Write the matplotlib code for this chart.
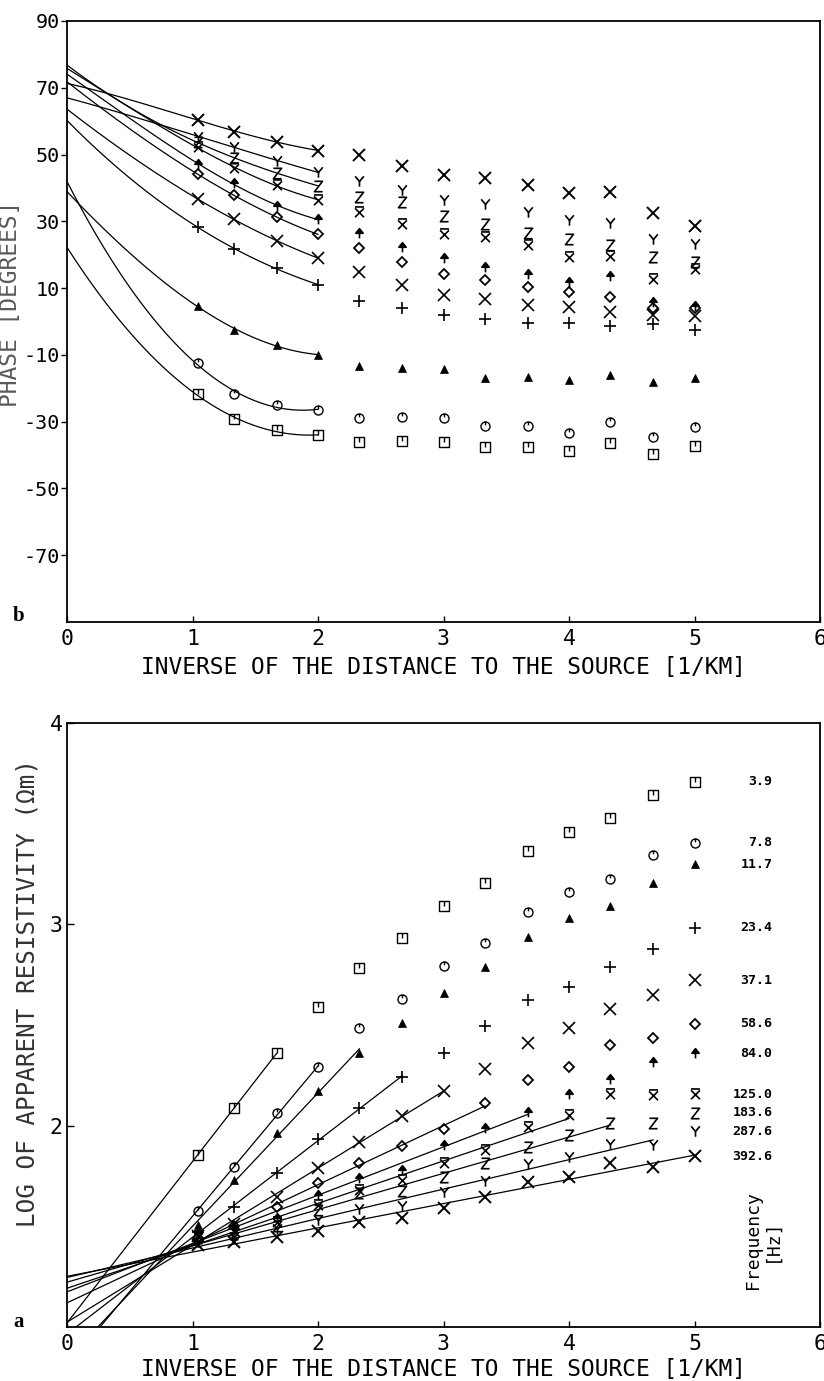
import numpy as np
import matplotlib
matplotlib.use("Agg")
import matplotlib.pyplot as plt
from matplotlib.path import Path

# ---------------------------------------------------------------- data
inv_distance = [1.04, 1.33, 1.67, 2.0, 2.33, 2.67, 3.0, 3.33, 3.67, 4.0, 4.33, 4.67, 5.0]

freq_labels = ["3.9", "7.8", "11.7", "23.4", "37.1", "58.6",
               "84.0", "125.0", "183.6", "287.6", "392.6"]

# phase [degrees] per frequency
phase_3_9 = [-21.8, -29.3, -32.5, -34.1, -36.0, -35.7, -36.0, -37.5, -37.5, -38.7, -36.3, -39.6, -37.2]
phase_7_8 = [-12.5, -21.7, -25.0, -26.5, -28.8, -28.7, -29.0, -31.3, -31.3, -33.3, -30.2, -34.5, -31.5]
phase_11_7 = [4.7, -2.5, -7.0, -10.0, -13.3, -14.0, -14.2, -16.8, -16.6, -17.5, -16.0, -18.2, -17.0]
phase_23_4 = [28.4, 21.6, 16.0, 11.0, 6.2, 4.0, 2.0, 0.7, -0.5, -0.3, -1.3, -0.7, -2.5]
phase_37_1 = [36.7, 30.6, 24.2, 19.0, 14.8, 11.0, 8.0, 6.7, 5.0, 4.3, 2.7, 2.0, 1.5]
phase_58_6 = [44.1, 37.9, 31.2, 26.1, 21.9, 17.9, 14.3, 12.5, 10.3, 8.8, 7.3, 4.0, 4.0]
phase_84_0 = [47.2, 41.4, 34.6, 30.6, 26.4, 22.4, 19.0, 16.4, 14.3, 11.8, 13.7, 5.8, 4.7]
phase_125_0 = [52.2, 45.9, 40.9, 36.4, 32.7, 29.1, 26.1, 25.2, 22.9, 19.2, 19.7, 12.7, 15.7]
phase_183_6 = [53.7, 48.9, 44.6, 40.6, 37.4, 35.7, 31.6, 29.2, 26.4, 24.7, 22.9, 19.2, 17.9]
phase_287_6 = [55.4, 52.4, 48.1, 44.7, 42.1, 39.4, 36.4, 35.2, 32.7, 30.4, 29.6, 24.6, 23.1]
phase_392_6 = [60.4, 56.9, 53.9, 51.2, 49.9, 46.6, 43.9, 43.1, 40.9, 38.6, 38.8, 32.4, 28.7]

# value of each phase curve at infinite distance (x = 0)
phase_at_zero = [22.2, 41.9, 38.9, 60.2, 63.6, 71.8, 74.1, 75.8, 76.8, 67.0, 71.3]

# log10 apparent resistivity per frequency
logres_3_9 = [1.854, 2.086, 2.359, 2.591, 2.781, 2.930, 3.091, 3.207, 3.364, 3.459, 3.528, 3.644, 3.708]
logres_7_8 = [1.576, 1.796, 2.061, 2.289, 2.487, 2.629, 2.793, 2.909, 3.063, 3.159, 3.227, 3.344, 3.406]
logres_11_7 = [1.506, 1.730, 1.962, 2.174, 2.362, 2.508, 2.660, 2.789, 2.938, 3.033, 3.093, 3.207, 3.298]
logres_23_4 = [1.470, 1.594, 1.766, 1.933, 2.086, 2.243, 2.362, 2.495, 2.624, 2.690, 2.786, 2.876, 2.983]
logres_37_1 = [1.450, 1.511, 1.644, 1.791, 1.920, 2.049, 2.174, 2.281, 2.409, 2.487, 2.578, 2.649, 2.723]
logres_58_6 = [1.440, 1.500, 1.594, 1.716, 1.816, 1.897, 1.981, 2.114, 2.227, 2.293, 2.400, 2.437, 2.505]
logres_84_0 = [1.460, 1.490, 1.543, 1.655, 1.738, 1.779, 1.904, 1.987, 2.066, 2.155, 2.232, 2.318, 2.359]
logres_125_0 = [1.450, 1.475, 1.523, 1.606, 1.680, 1.730, 1.813, 1.879, 1.995, 2.053, 2.155, 2.152, 2.155]
logres_183_6 = [1.440, 1.460, 1.500, 1.581, 1.664, 1.675, 1.746, 1.816, 1.896, 1.953, 2.011, 2.014, 2.064]
logres_287_6 = [1.420, 1.445, 1.485, 1.531, 1.586, 1.602, 1.672, 1.725, 1.808, 1.846, 1.907, 1.904, 1.973]
logres_392_6 = [1.407, 1.423, 1.448, 1.476, 1.523, 1.540, 1.589, 1.644, 1.721, 1.746, 1.813, 1.793, 1.849]

# number of points (from the nearest-to-source side) used for each straight-line fit
logres_fit_count = [3, 4, 5, 6, 7, 8, 9, 10, 11, 12, 13]
# number of points used for each phase curve
phase_fit_count = 4

phase_series = [phase_3_9, phase_7_8, phase_11_7, phase_23_4, phase_37_1, phase_58_6,
                phase_84_0, phase_125_0, phase_183_6, phase_287_6, phase_392_6]
logres_series = [logres_3_9, logres_7_8, logres_11_7, logres_23_4, logres_37_1, logres_58_6,
                 logres_84_0, logres_125_0, logres_183_6, logres_287_6, logres_392_6]

# ---------------------------------------------------------------- plotter symbols
M, L, C = Path.MOVETO, Path.LINETO, Path.CLOSEPOLY
square_notch = Path([(-1, -1), (1, -1), (1, 1), (-1, 1), (-1, -1), (0, 1), (0, 0.1)],
                    [M, L, L, L, C, M, L])
circle_tick = Path.make_compound_path(Path.unit_circle(), Path([(0, 1), (0, 0.25)], [M, L]))
arrow_up = Path([(-0.75, 0.05), (0, 1), (0.75, 0.05), (-0.75, 0.05), (0, 0.05), (0, -1)],
                [M, L, L, C, M, L])
x_bar = Path([(-0.8, -0.85), (0.8, 0.75), (-0.8, 0.75), (0.8, -0.85), (-0.8, 1.0), (0.8, 1.0)],
             [M, L, M, L, M, L])
z_sym = Path([(-0.7, 0.9), (0.7, 0.9), (-0.7, -0.9), (0.7, -0.9)], [M, L, L, L])
y_sym = Path([(-0.75, 0.9), (0, 0.0), (0.75, 0.9), (0, 0.0), (0, -0.9)], [M, L, L, M, L])

styles = [
    dict(marker=square_notch, ms=6.5, mfc="none", mew=1.0),
    dict(marker=circle_tick, ms=6.5, mfc="none", mew=1.0),
    dict(marker="^", ms=6, mfc="black", mew=0.5),
    dict(marker="+", ms=8, mfc="none", mew=1.2),
    dict(marker="x", ms=8, mfc="none", mew=1.2),
    dict(marker="D", ms=5, mfc="none", mew=1.3),
    dict(marker=arrow_up, ms=7, mfc="black", mew=1.2),
    dict(marker=x_bar, ms=8, mfc="none", mew=1.2),
    dict(marker=z_sym, ms=7.5, mfc="none", mew=1.2),
    dict(marker=y_sym, ms=7.5, mfc="none", mew=1.2),
    dict(marker="x", ms=8.5, mfc="none", mew=1.4),
]

MONO = ["DejaVu Sans Mono"]
TICK_SIZE = 15.5
PHASE_TICK_SIZE = 14.5

W, H = 824, 1381
fig = plt.figure(figsize=(W / 100, H / 100), dpi=100)
ax_p = fig.add_axes([67 / W, 1 - 622 / H, (820 - 67) / W, (622 - 21) / H])
ax_r = fig.add_axes([67 / W, 1 - 1327 / H, (820 - 67) / W, (1327 - 723) / H])

x = np.array(inv_distance)

# ---------------------------------------------------------------- phase panel
for vals, y0, st in zip(phase_series, phase_at_zero, styles):
    xf = np.concatenate([[0.0], x[:phase_fit_count]])
    yf = np.concatenate([[y0], np.array(vals[:phase_fit_count])])
    coef = np.polyfit(xf, yf, 3)
    xs = np.linspace(0, x[phase_fit_count - 1], 200)
    ax_p.plot(xs, np.polyval(coef, xs), color="black", lw=0.9)
    ax_p.plot(x, vals, ls="none", color="black", mec="black", **st)

ax_p.set_xlim(0, 6)
ax_p.set_ylim(-90, 90)
ax_p.set_xticks(range(0, 7))
ax_p.set_xticklabels([str(i) for i in range(7)], fontfamily=MONO, fontsize=TICK_SIZE)
yt = [-70, -50, -30, -10, 10, 30, 50, 70, 90]
ax_p.set_yticks(yt)
ax_p.set_yticklabels([str(v) for v in yt], fontfamily=MONO, fontsize=PHASE_TICK_SIZE)
ax_p.tick_params(axis="y", direction="out", length=4, width=1, pad=1)
ax_p.tick_params(axis="x", direction="in", length=4, width=1, pad=5)
ax_p.set_xlabel("INVERSE OF THE DISTANCE TO THE SOURCE [1/KM]", fontfamily=MONO,
                fontsize=16.5, va="center")
ax_p.xaxis.set_label_coords(0.5, -0.075)
ax_p.set_ylabel("PHASE [DEGREES]", fontfamily=MONO, fontsize=16.5, color="#5a5a5a",
                va="center")
ax_p.yaxis.set_label_coords(-0.075, 0.529)

# ---------------------------------------------------------------- resistivity panel
for vals, n, st in zip(logres_series, logres_fit_count, styles):
    coef = np.polyfit(x[:n], vals[:n], 1)
    xs = np.array([0.0, x[n - 1]])
    ax_r.plot(xs, np.polyval(coef, xs), color="black", lw=0.9)
    ax_r.plot(x, vals, ls="none", color="black", mec="black", **st)

for vals, lab in zip(logres_series, freq_labels):
    ax_r.text(5.62, vals[-1], lab, ha="right", va="center", fontfamily=MONO,
              fontsize=9.5, fontweight="bold")

ax_r.text(5.54, 1.43, "Frequency\n[Hz]", rotation=90, ha="center", va="center",
          multialignment="center", fontfamily=MONO, fontsize=13, linespacing=1.1)

ax_r.set_xlim(0, 6)
ax_r.set_ylim(1, 4)
ax_r.set_xticks(range(0, 7))
ax_r.set_xticklabels([str(i) for i in range(7)], fontfamily=MONO, fontsize=TICK_SIZE)
ax_r.set_yticks([2, 3, 4])
ax_r.set_yticklabels(["2", "3", "4"], fontfamily=MONO, fontsize=TICK_SIZE)
ax_r.tick_params(axis="y", direction="in", length=5, width=1, pad=3)
ax_r.tick_params(axis="x", direction="in", length=4, width=1, pad=5)
ax_r.set_xlabel("INVERSE OF THE DISTANCE TO THE SOURCE [1/KM]", fontfamily=MONO,
                fontsize=16.5, va="center")
ax_r.xaxis.set_label_coords(0.5, -0.071)
ax_r.set_ylabel("LOG OF APPARENT RESISTIVITY (Ωm)", fontfamily=MONO, fontsize=17.5,
                color="#333333", va="center")
ax_r.yaxis.set_label_coords(-0.053, 0.553)

for ax in (ax_p, ax_r):
    for sp in ax.spines.values():
        sp.set_linewidth(1.3)

fig.text(19 / W, 1 - 616 / H, "b", fontfamily=["Liberation Serif", "DejaVu Serif"],
         fontweight="bold", fontsize=15, ha="center", va="center")
fig.text(19 / W, 1 - 1322 / H, "a", fontfamily=["Liberation Serif", "DejaVu Serif"],
         fontweight="bold", fontsize=15, ha="center", va="center")

fig.savefig("out.png", dpi=100, facecolor="white")
